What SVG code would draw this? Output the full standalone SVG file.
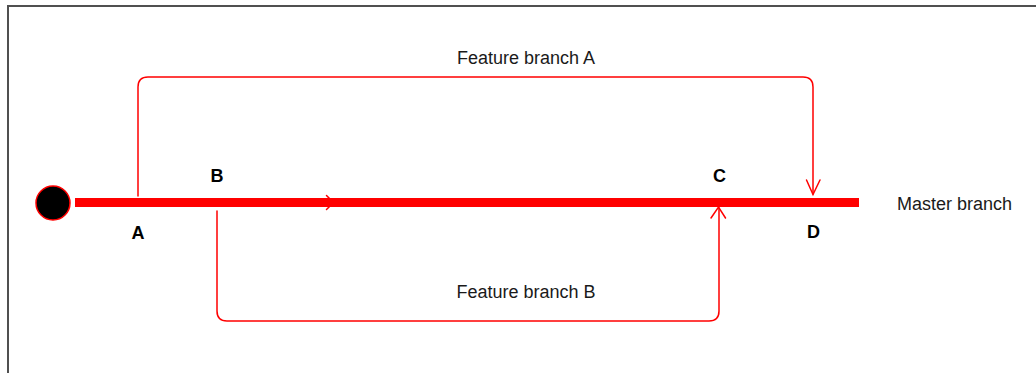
<svg xmlns="http://www.w3.org/2000/svg" width="1036" height="373" viewBox="0 0 1036 373">
<style>
.lbl{font-family:"Liberation Sans",Arial,sans-serif;font-size:18px;fill:#1a1a1a;text-anchor:middle}
.pt{font-family:"Liberation Sans",Arial,sans-serif;font-size:18px;font-weight:bold;fill:#000;text-anchor:middle}
.br{fill:none;stroke:#ff0000;stroke-width:1.5;stroke-linejoin:round;stroke-linecap:round}
.ah{fill:none;stroke:#ff0000;stroke-width:1.5;stroke-linecap:round;stroke-linejoin:miter}
</style>
<rect width="1036" height="373" fill="#ffffff"/>
<g id="frame"><path d="M8 373 V6 H1036" fill="none" stroke="#505050" stroke-width="2"/></g>
<g id="connectors">
  <g id="master-line">
    <line x1="75" y1="202.5" x2="859" y2="202.5" stroke="#ff0000" stroke-width="9"/>
    <polyline class="ah" points="326.5,195.5 333.5,202.5 326.5,209.5"/>
  </g>
  <g id="feature-a-line">
    <path class="br" d="M138 196 V87 Q138 77 148 77 H803 Q813 77 813 87 V194"/>
    <polyline class="ah" points="806.5,180 813,194.5 820,180"/>
  </g>
  <g id="feature-b-line">
    <path class="br" d="M217 211 V311 Q217 321 227 321 H709 Q719 321 719 311 V208"/>
    <polyline class="ah" points="711,218 718.5,207 725.5,218"/>
  </g>
</g>
<g id="start"><circle cx="53" cy="203" r="17" fill="#000" stroke="#ff0000" stroke-width="1.5"/></g>
<g id="label-feature-a"><text class="lbl" x="526" y="64">Feature branch A</text></g>
<g id="label-feature-b"><text class="lbl" x="526" y="298">Feature branch B</text></g>
<g id="label-master"><text class="lbl" x="954.5" y="210">Master branch</text></g>
<g id="node-A"><text class="pt" x="138" y="239">A</text></g>
<g id="node-B"><text class="pt" x="217" y="182">B</text></g>
<g id="node-C"><text class="pt" x="719.5" y="182">C</text></g>
<g id="node-D"><text class="pt" x="813.5" y="238">D</text></g>
</svg>
